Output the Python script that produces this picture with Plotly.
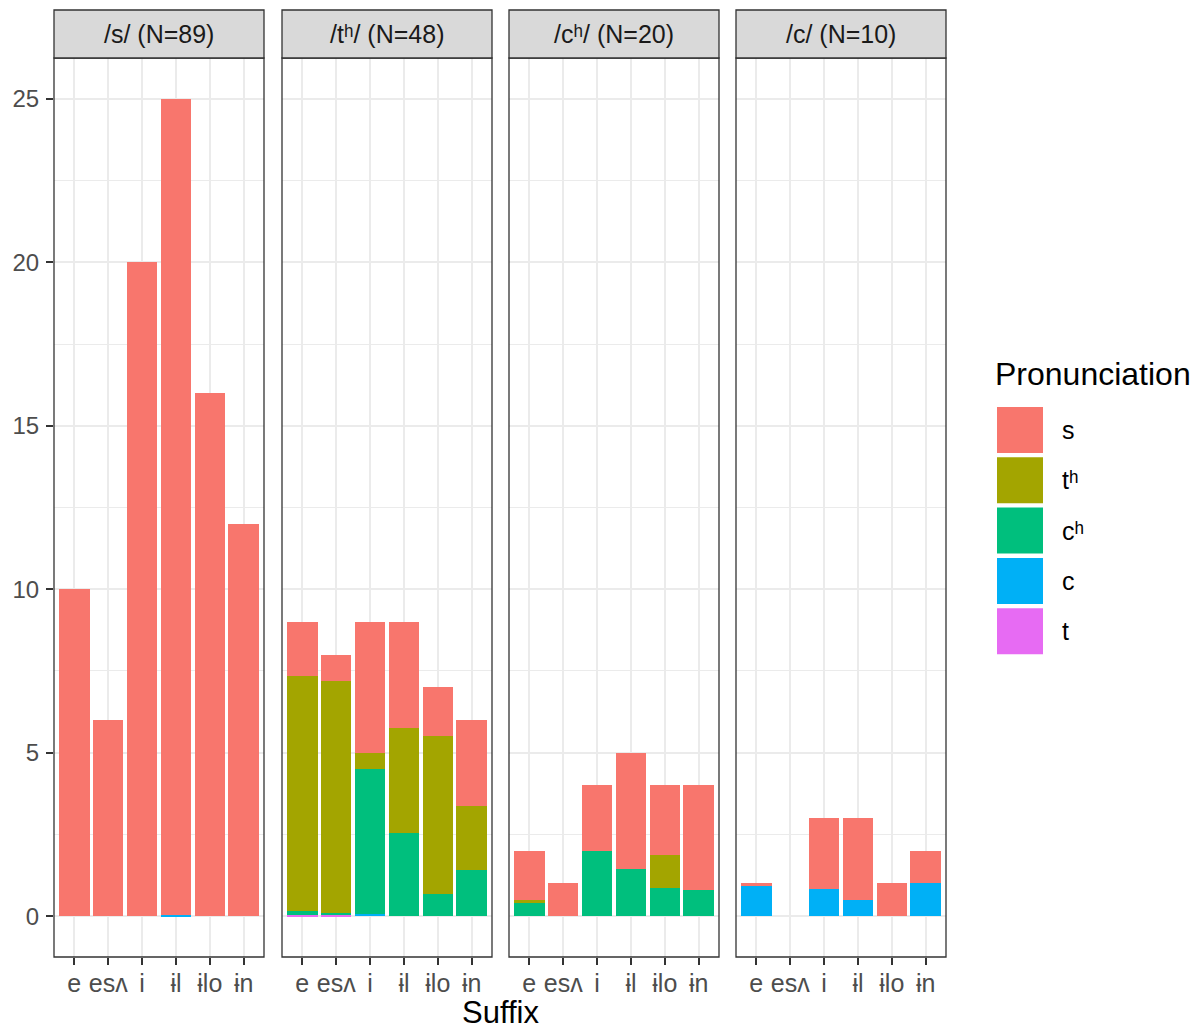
import plotly.graph_objects as go

# ---- data -------------------------------------------------------------
suffixes = ["e", "esʌ", "i", "ɨl", "ɨlo", "ɨn"]
pron_levels = ["s", "tʰ", "cʰ", "c", "t"]
pron_colors = ["#F8766D", "#A3A500", "#00BF7D", "#00B0F6", "#E76BF3"]
panel_titles = ["/s/ (N=89)", "/tʰ/ (N=48)", "/cʰ/ (N=20)", "/c/ (N=10)"]

# counts per pronunciation, one list per suffix order above
s_panel = {
    "s":  [10, 6, 20, 24.97, 16, 12],
    "tʰ": [0, 0, 0, 0, 0, 0],
    "cʰ": [0, 0, 0, 0, 0, 0],
    "c":  [0, 0, 0, 0.03, 0, 0],
    "t":  [0, 0, 0, 0, 0, 0],
}
th_panel = {
    "s":  [1.65, 0.81, 4.0, 3.26, 1.5, 2.62],
    "tʰ": [7.19, 7.09, 0.5, 3.2, 4.83, 1.97],
    "cʰ": [0.13, 0.07, 4.42, 2.54, 0.67, 1.41],
    "c":  [0, 0, 0.08, 0, 0, 0],
    "t":  [0.03, 0.03, 0, 0, 0, 0],
}
ch_panel = {
    "s":  [1.5, 1, 2, 3.56, 2.13, 3.2],
    "tʰ": [0.11, 0, 0, 0, 1.0, 0],
    "cʰ": [0.39, 0, 2, 1.44, 0.87, 0.8],
    "c":  [0, 0, 0, 0, 0, 0],
    "t":  [0, 0, 0, 0, 0, 0],
}
c_panel = {
    "s":  [0.05, 0, 2.18, 2.5, 1, 1.0],
    "tʰ": [0, 0, 0, 0, 0, 0],
    "cʰ": [0, 0, 0, 0, 0, 0],
    "c":  [0.95, 0, 0.82, 0.5, 0, 1.0],
    "t":  [0, 0, 0, 0, 0, 0],
}
panels = [s_panel, th_panel, ch_panel, c_panel]

# ---- layout geometry (pixels) ----------------------------------------
W, H = 1202, 1030
FONT = "Liberation Sans"
panel_x = [(54, 264), (282, 492), (509, 719), (736, 946)]
panel_top, panel_bottom = 58, 957
strip_top = 10


def px(x):
    return x / W


def py(y):
    return 1 - y / H


fig = go.Figure()

# stacked bars: the first factor level sits on top, so add in reverse
for i, data in enumerate(panels):
    suffix = "" if i == 0 else str(i + 1)
    for level, color in reversed(list(zip(pron_levels, pron_colors))):
        fig.add_trace(go.Bar(
            x=suffixes, y=data[level], name=level,
            marker=dict(color=color, line=dict(width=0)),
            xaxis="x" + suffix, yaxis="y" + suffix,
            showlegend=False,
        ))

grid = "#EBEBEB"
layout = dict(
    width=W, height=H,
    margin=dict(l=0, r=0, t=0, b=0, autoexpand=False),
    paper_bgcolor="white", plot_bgcolor="white",
    barmode="stack", bargap=0.1,
    font=dict(family=FONT, size=25, color="#4D4D4D"),
)

for i, (x0, x1) in enumerate(panel_x):
    suffix = "" if i == 0 else str(i + 1)
    layout["xaxis" + suffix] = dict(
        domain=[px(x0), px(x1)], anchor="y" + suffix,
        type="category", categoryorder="array", categoryarray=suffixes,
        range=[-0.6, 5.6], showgrid=True, gridcolor=grid, gridwidth=2,
        ticks="outside", ticklen=7, tickwidth=1.6, tickcolor="#333333",
        ticklabelstandoff=-3,
        tickfont=dict(size=25, color="#4D4D4D"),
        showline=False, zeroline=False, fixedrange=True,
    )
    layout["yaxis" + suffix] = dict(
        domain=[py(panel_bottom), py(panel_top)], anchor="x" + suffix,
        range=[-1.25, 26.25], tickvals=[0, 5, 10, 15, 20, 25],
        showgrid=True, gridcolor=grid, gridwidth=2,
        minor=dict(tickvals=[2.5, 7.5, 12.5, 17.5, 22.5], showgrid=True,
                   gridcolor=grid, gridwidth=1, ticks=""),
        showticklabels=(i == 0),
        ticks="outside" if i == 0 else "", ticklen=7, tickwidth=1.6,
        tickcolor="#333333", tickfont=dict(size=24, color="#4D4D4D"),
        ticklabelstandoff=2,
        showline=False, zeroline=False, fixedrange=True,
    )
    if i > 0:
        layout["yaxis" + suffix]["matches"] = "y"

shapes = []
annotations = []
for (x0, x1), title in zip(panel_x, panel_titles):
    # panel border
    shapes.append(dict(type="rect", xref="paper", yref="paper",
                       x0=px(x0), x1=px(x1), y0=py(panel_bottom), y1=py(panel_top),
                       line=dict(color="#333333", width=1.3), fillcolor="rgba(0,0,0,0)",
                       layer="above"))
    # facet strip
    shapes.append(dict(type="rect", xref="paper", yref="paper",
                       x0=px(x0), x1=px(x1), y0=py(panel_top), y1=py(strip_top),
                       line=dict(color="#333333", width=1.3), fillcolor="#D9D9D9",
                       layer="above"))
    annotations.append(dict(xref="paper", yref="paper",
                            x=px((x0 + x1) / 2), y=py((panel_top + strip_top) / 2),
                            text=title, showarrow=False,
                            font=dict(family=FONT, size=25, color="#1A1A1A"),
                            xanchor="center", yanchor="middle"))

# x-axis title
annotations.append(dict(xref="paper", yref="paper", x=px(500), y=py(1012),
                        text="Suffix", showarrow=False,
                        font=dict(family=FONT, size=31, color="black"),
                        xanchor="center", yanchor="middle"))

# legend: title, colour keys and labels
annotations.append(dict(xref="paper", yref="paper", x=px(993), y=py(374),
                        text="Pronunciation", showarrow=False,
                        font=dict(family=FONT, size=32, color="black"),
                        xanchor="left", yanchor="middle"))
key_x0, key_x1 = 997, 1043
for k, (level, color) in enumerate(zip(pron_levels, pron_colors)):
    top = 407 + k * 50.3
    shapes.append(dict(type="rect", xref="paper", yref="paper",
                       x0=px(key_x0), x1=px(key_x1), y0=py(top + 46), y1=py(top),
                       line=dict(width=0), fillcolor=color))
    annotations.append(dict(xref="paper", yref="paper", x=px(1060), y=py(top + 23),
                            text=level, showarrow=False,
                            font=dict(family=FONT, size=25, color="black"),
                            xanchor="left", yanchor="middle"))

layout["shapes"] = shapes
layout["annotations"] = annotations
fig.update_layout(**layout)

fig.write_html("out.html")
